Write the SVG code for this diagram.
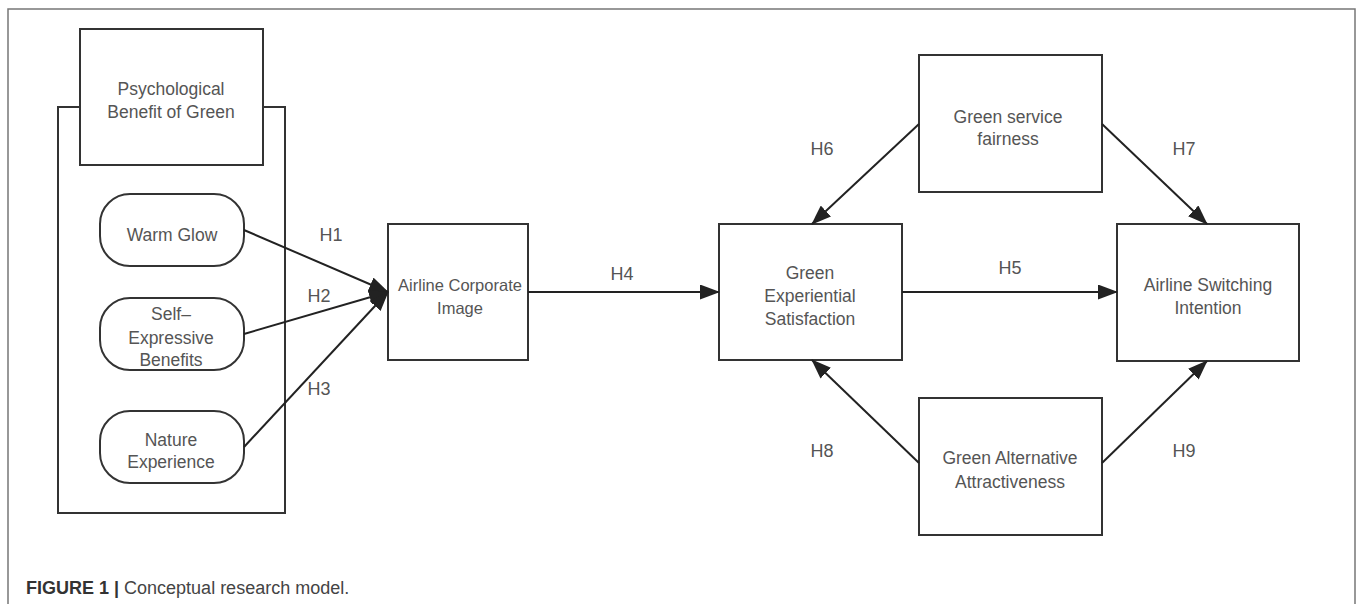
<svg xmlns="http://www.w3.org/2000/svg" width="1357" height="604" viewBox="0 0 1357 604">
<style>
.box{fill:#fff;stroke:#333;stroke-width:2}
.t{font-family:"Liberation Sans",Arial,sans-serif;font-size:17.5px;fill:#555;text-anchor:middle}
.lbl{font-family:"Liberation Sans",Arial,sans-serif;font-size:18px;fill:#555;text-anchor:middle}
.c{stroke:#222;stroke-width:2;fill:none;marker-end:url(#ah)}
</style>
<defs>
<marker id="ah" markerUnits="userSpaceOnUse" markerWidth="20" markerHeight="15" refX="19" refY="7.5" orient="auto">
<path d="M0,0 L20,7.5 L0,15 Z" fill="#222"/>
</marker>
</defs>
<rect width="1357" height="604" fill="#fff"/>
<path d="M8,604 L8,9 L1355,9 L1355,604" fill="none" stroke="#777" stroke-width="1.5"/>
<g id="container">
<path d="M80,107 L58,107 L58,513 L285,513 L285,107 L263,107" class="box" fill="none"/>
</g>
<g id="psych">
<rect class="box" x="80" y="29" width="183" height="136"/>
<text class="t" x="171" y="95">Psychological</text>
<text class="t" x="171" y="118">Benefit of Green</text>
</g>
<g id="warm">
<rect class="box" x="100" y="194" width="144" height="72" rx="30" ry="30"/>
<text class="t" x="172" y="241">Warm Glow</text>
</g>
<g id="self">
<rect class="box" x="100" y="298" width="144" height="72" rx="30" ry="30"/>
<text class="t" x="171" y="320">Self–</text>
<text class="t" x="171" y="344">Expressive</text>
<text class="t" x="171" y="366">Benefits</text>
</g>
<g id="nature">
<rect class="box" x="100" y="411" width="144" height="72" rx="30" ry="30"/>
<text class="t" x="171" y="446">Nature</text>
<text class="t" x="171" y="468">Experience</text>
</g>
<g id="aci">
<rect class="box" x="388" y="224" width="140" height="136"/>
<text class="t" x="460" y="291" style="font-size:16.5px">Airline Corporate</text>
<text class="t" x="460" y="314" style="font-size:16.5px">Image</text>
</g>
<g id="ges">
<rect class="box" x="719" y="224" width="183" height="136"/>
<text class="t" x="810" y="279">Green</text>
<text class="t" x="810" y="302">Experiential</text>
<text class="t" x="810" y="325">Satisfaction</text>
</g>
<g id="gsf">
<rect class="box" x="919" y="55" width="183" height="137"/>
<text class="t" x="1008" y="123">Green service</text>
<text class="t" x="1008" y="145">fairness</text>
</g>
<g id="asi">
<rect class="box" x="1117" y="224" width="182" height="137"/>
<text class="t" x="1208" y="291">Airline Switching</text>
<text class="t" x="1208" y="314">Intention</text>
</g>
<g id="gaa">
<rect class="box" x="919" y="398" width="183" height="137"/>
<text class="t" x="1010" y="464">Green Alternative</text>
<text class="t" x="1010" y="488">Attractiveness</text>
</g>
<g id="connectors">
<line class="c" x1="244" y1="230" x2="388" y2="292"/>
<line class="c" x1="244" y1="334" x2="388" y2="292"/>
<line class="c" x1="244" y1="447" x2="388" y2="292"/>
<line class="c" x1="528" y1="292" x2="719" y2="292"/>
<line class="c" x1="902" y1="292" x2="1117" y2="292"/>
<line class="c" x1="919" y1="124" x2="812" y2="224"/>
<line class="c" x1="1102" y1="124" x2="1207" y2="224"/>
<line class="c" x1="919" y1="463" x2="812" y2="360"/>
<line class="c" x1="1102" y1="463" x2="1207" y2="361"/>
<text class="lbl" x="331" y="241">H1</text>
<text class="lbl" x="319" y="302">H2</text>
<text class="lbl" x="319" y="395">H3</text>
<text class="lbl" x="622" y="280">H4</text>
<text class="lbl" x="1010" y="274">H5</text>
<text class="lbl" x="822" y="155">H6</text>
<text class="lbl" x="1184" y="155">H7</text>
<text class="lbl" x="822" y="457">H8</text>
<text class="lbl" x="1184" y="457">H9</text>
</g>
<text x="26" y="594" font-family="'Liberation Sans',Arial,sans-serif" font-size="18" fill="#333"><tspan font-weight="bold">FIGURE 1 |</tspan><tspan fill="#444"> Conceptual research model.</tspan></text>
</svg>
